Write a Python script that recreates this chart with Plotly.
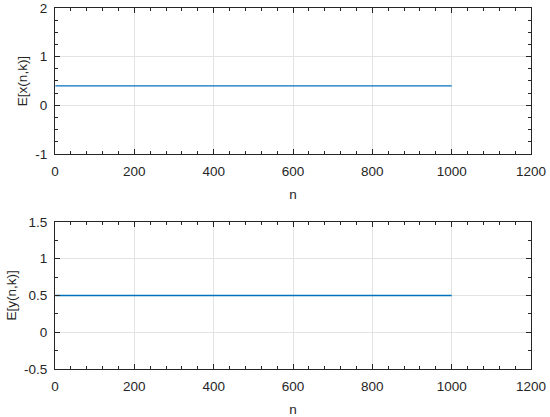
import plotly.graph_objects as go
from plotly.subplots import make_subplots

# Mean values over iterations n
n_values = [1, 1000]
ex_values = [0.4, 0.4]
ey_values = [0.5, 0.5]

x_ticks = [0, 200, 400, 600, 800, 1000, 1200]
top_y_ticks = [-1, 0, 1, 2]
top_y_labels = ["-1", "0", "1", "2"]
bottom_y_ticks = [-0.5, 0, 0.5, 1, 1.5]
bottom_y_labels = ["-0.5", "0", "0.5", "1", "1.5"]

line_color = "#0072BD"
axis_color = "#262626"
grid_color = "#e3e3e3"
font = dict(family="Liberation Sans, Arial, Helvetica, sans-serif", size=13.5, color="#262626")

fig = make_subplots(rows=2, cols=1)

fig.add_trace(go.Scatter(x=n_values, y=ex_values, mode="lines",
                         line=dict(color=line_color, width=1.2), showlegend=False), row=1, col=1)
fig.add_trace(go.Scatter(x=n_values, y=ey_values, mode="lines",
                         line=dict(color=line_color, width=1.5), showlegend=False), row=2, col=1)

common_axis = dict(
    showline=True, linecolor=axis_color, linewidth=1, mirror="allticks",
    ticks="inside", ticklen=5, tickcolor=axis_color, tickwidth=1,
    showgrid=True, gridcolor=grid_color, gridwidth=1, zeroline=False,
    tickfont=font, automargin=False,
)

fig.update_xaxes(common_axis, range=[0, 1200], tickvals=x_ticks, ticklabelstandoff=5,
                 minor=dict(dtick=40, tick0=0, ticks="inside", ticklen=3, tickcolor=axis_color, showgrid=False),
                 title=dict(text="n", font=font, standoff=11))

fig.update_yaxes(common_axis, row=1, col=1, range=[-1, 2], domain=[0.5956, 1],
                 tickvals=top_y_ticks, ticktext=top_y_labels, ticklabelstandoff=4,
                 minor=dict(dtick=0.25, tick0=0, ticks="inside", ticklen=3, tickcolor=axis_color, showgrid=False),
                 title=dict(text="E[x(n,k)]", font=font, standoff=4))
fig.update_yaxes(common_axis, row=2, col=1, range=[-0.5, 1.5], domain=[0, 0.4072],
                 tickvals=bottom_y_ticks, ticktext=bottom_y_labels, ticklabelstandoff=4,
                 minor=dict(dtick=0.25, tick0=0, ticks="inside", ticklen=3, tickcolor=axis_color, showgrid=False),
                 title=dict(text="E[y(n,k)]", font=font, standoff=4))

fig.update_layout(
    width=550, height=417,
    margin=dict(l=55, r=19, t=8, b=48, autoexpand=False),
    paper_bgcolor="white", plot_bgcolor="white",
    font=font,
)

# page body has a default 8px margin; drop it so the figure sits at the window corner
fig.write_html("out.html", config={"displayModeBar": False},
               post_script="document.body.style.margin = '0';")
